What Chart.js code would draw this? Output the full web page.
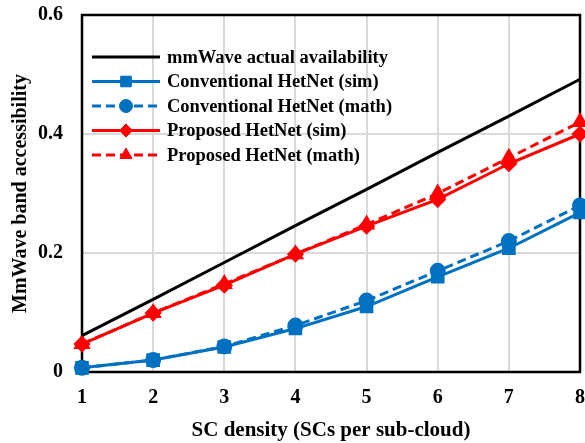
<!DOCTYPE html>
<html>
<head>
<meta charset="utf-8">
<script src="https://cdn.jsdelivr.net/npm/chart.js@4"></script>
<style>
html,body{margin:0;padding:0;background:#fff;}
#wrap{width:585px;height:443px;position:relative;}
</style>
</head>
<body>
<div id="wrap"><canvas id="c" width="585" height="443"></canvas></div>
<script>
const categories = ['1','2','3','4','5','6','7','8'];
const actualAvailability = [0.061, 0.122, 0.184, 0.246, 0.307, 0.369, 0.430, 0.492];
const convSim  = [0.007, 0.020, 0.042, 0.073, 0.110, 0.160, 0.208, 0.268];
const convMath = [0.007, 0.020, 0.043, 0.078, 0.120, 0.170, 0.220, 0.280];
const propSim  = [0.047, 0.099, 0.146, 0.198, 0.245, 0.290, 0.350, 0.400];
const propMath = [0.047, 0.099, 0.148, 0.198, 0.248, 0.300, 0.360, 0.420];
const yTicks = [0, 0.2, 0.4, 0.6];
const seriesNames = ['mmWave actual availability','Conventional HetNet (sim)','Conventional HetNet (math)','Proposed HetNet (sim)','Proposed HetNet (math)'];

const BLUE = '#0070C0', RED = '#FF0000';
const FONT = "'Liberation Serif','Times New Roman',serif";

const framePlugin = {
  id: 'frame',
  beforeDatasetsDraw(chart) {
    const ctx = chart.ctx;
    const a = chart.chartArea;
    ctx.save();
    ctx.strokeStyle = '#000';
    ctx.lineWidth = 2.5;
    ctx.strokeRect(a.left, a.top, a.right - a.left, a.bottom - a.top);
    ctx.restore();
  }
};

const legendPlugin = {
  id: 'customLegend',
  afterDraw(chart) {
    const ctx = chart.ctx;
    const a = chart.chartArea;
    const x0 = a.left + 10, x1 = a.left + 78, tx = a.left + 85;
    let y = a.top + 42;
    const dy = 24.5;
    chart.data.datasets.forEach((ds, i) => {
      ctx.save();
      ctx.strokeStyle = ds.borderColor;
      ctx.lineWidth = ds.borderWidth;
      ctx.setLineDash(ds.borderDash || []);
      ctx.beginPath(); ctx.moveTo(x0, y); ctx.lineTo(x1, y); ctx.stroke();
      ctx.setLineDash([]);
      if (ds.pointStyle && ds.pointRadius > 0) {
        ctx.fillStyle = ds.backgroundColor;
        ctx.strokeStyle = ds.borderColor;
        ctx.lineWidth = 1;
        Chart.helpers.drawPoint(ctx, {pointStyle: ds.pointStyle, radius: ds.pointRadius, borderWidth: 1, rotation: 0}, (x0 + x1) / 2, y);
      }
      ctx.fillStyle = '#000';
      ctx.font = "bold 18.5px " + FONT;
      ctx.textBaseline = 'middle';
      ctx.fillText(ds.label, tx, y + 1);
      ctx.restore();
      y += dy;
    });
  }
};

new Chart(document.getElementById('c'), {
  type: 'line',
  data: {
    labels: categories,
    datasets: [
      {label: seriesNames[0], data: actualAvailability, borderColor: '#000', backgroundColor: '#000', borderWidth: 3, pointRadius: 0, pointStyle: false, clip: false},
      {label: seriesNames[1], data: convSim, borderColor: BLUE, backgroundColor: BLUE, borderWidth: 3, pointStyle: 'rect', pointRadius: 7.5, clip: false},
      {label: seriesNames[2], data: convMath, borderColor: BLUE, backgroundColor: BLUE, borderWidth: 3, borderDash: [9, 5], pointStyle: 'circle', pointRadius: 6.5, clip: false},
      {label: seriesNames[3], data: propSim, borderColor: RED, backgroundColor: RED, borderWidth: 3, pointStyle: 'rectRot', pointRadius: 6.5, clip: false},
      {label: seriesNames[4], data: propMath, borderColor: RED, backgroundColor: RED, borderWidth: 3, borderDash: [9, 5], pointStyle: 'triangle', pointRadius: 7, clip: false}
    ]
  },
  options: {
    responsive: false,
    animation: false,
    layout: {autoPadding: false, padding: {left: 0, right: 5, top: 0, bottom: 0}},
    plugins: {legend: {display: false}, tooltip: {enabled: false}},
    elements: {line: {tension: 0}, point: {borderWidth: 1}},
    scales: {
      x: {
        type: 'category',
        offset: false,
        grid: {color: '#D9D9D9', lineWidth: 2, drawTicks: false},
        border: {display: false},
        ticks: {color: '#000', font: {family: FONT, size: 20, weight: 'bold'}, padding: 14, maxRotation: 0},
        title: {display: true, text: 'SC density (SCs per sub-cloud)', color: '#000', font: {family: FONT, size: 21, weight: 'bold'}, padding: {top: 5, bottom: 0}},
        afterFit(s) { s.height = 71; s.paddingLeft = 0; s.paddingRight = 0; }
      },
      y: {
        min: 0, max: 0.6,
        afterBuildTicks(s) { s.ticks = yTicks.map(v => ({value: v})); },
        grid: {color: '#D9D9D9', lineWidth: 2, drawTicks: false},
        border: {display: false},
        ticks: {color: '#000', font: {family: FONT, size: 20, weight: 'bold'}, padding: 19,
          callback: v => (v === 0 ? '0' : v.toFixed(1))},
        title: {display: true, text: 'MmWave band accessibility', color: '#000', font: {family: FONT, size: 20, weight: 'bold'}, padding: {top: 9, bottom: 0}},
        afterFit(s) { s.width = 82; s.paddingTop = 15; s.paddingBottom = 0; }
      }
    }
  },
  plugins: [framePlugin, legendPlugin]
});
</script>
</body>
</html>
